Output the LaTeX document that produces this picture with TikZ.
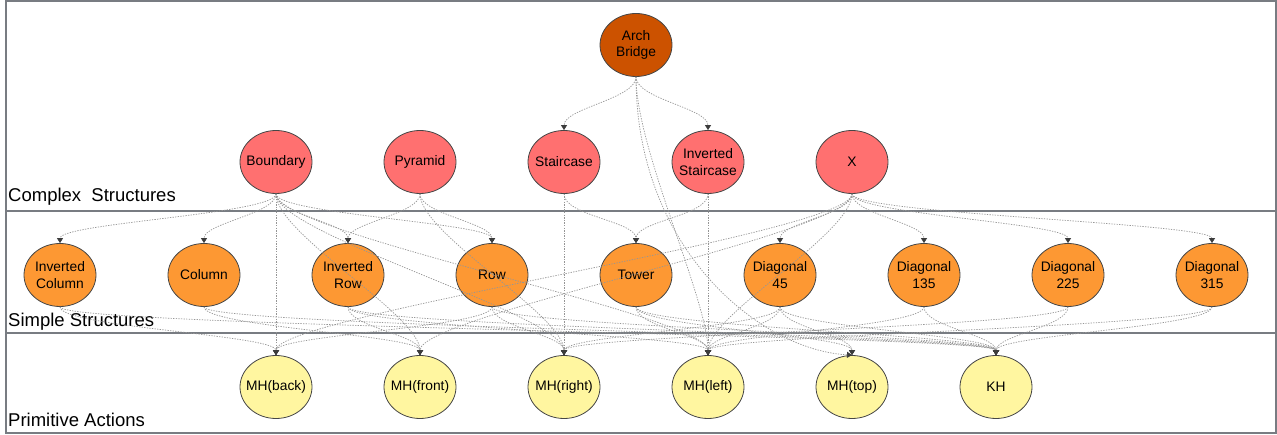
\documentclass[tikz,border=0pt]{standalone}
\usepackage{fontspec}
\setmainfont{Liberation Sans}
\usetikzlibrary{shapes.geometric,arrows.meta}
\definecolor{abc}{RGB}{204,82,0}
\definecolor{cxc}{RGB}{255,112,112}
\definecolor{smc}{RGB}{253,152,51}
\definecolor{prc}{RGB}{255,246,160}
\definecolor{bdc}{RGB}{70,70,70}
\definecolor{lnc}{RGB}{150,150,150}
\definecolor{tipc}{RGB}{60,60,60}
\definecolor{frc}{RGB}{120,124,130}
\tikzset{
 bubble/.style={ellipse, draw=bdc, line width=0.8pt, minimum width=72pt, minimum height=63pt, inner sep=-6pt, align=center, font=\fontsize{13.8}{16.5}\selectfont, text=black},
 abnode/.style={bubble, fill=abc},
 cxnode/.style={bubble, fill=cxc},
 smnode/.style={bubble, fill=smc},
 prnode/.style={bubble, fill=prc},
 conn/.style={draw=lnc, line width=0.7pt, dash pattern=on 1.3pt off 1.3pt, -{Triangle[length=5pt,width=6pt,color=tipc]}},
 lanelabel/.style={anchor=base west, inner sep=0pt, font=\fontsize{18.5}{20}\selectfont},
 frameline/.style={draw=frc, line width=1.3pt},
 laneline/.style={draw=frc, line width=2pt},
}
\newcommand\mylink[3][24]{\draw[conn] (#2.south) .. controls +(0,#1) and +(0,-#1) .. (#3.north);}
\begin{document}
\begin{tikzpicture}[x=1pt,y=-1pt]
\useasboundingbox (0,0) rectangle (1277,435);
\fill[white] (0,0) rectangle (1277,435);
% lanes
\draw[frameline] (6,1) rectangle (1276,433);
\draw[laneline] (6,211) -- (1276,211);
\draw[laneline] (6,333) -- (1276,333);
\node[lanelabel] (lcx) at (8,202) {Complex\ \ Structures};
\node[lanelabel] (lsm) at (8,327) {Simple Structures};
\node[lanelabel] (lpr) at (8,426) {Primitive Actions};
% nodes
\node[abnode] (ab) at (636,45) {Arch\\Bridge};
\node[cxnode] (bnd) at (276,162) {Boundary};
\node[cxnode] (pyr) at (420,162) {Pyramid};
\node[cxnode] (stc) at (564,162) {Staircase};
\node[cxnode] (ist) at (708,162) {Inverted\\Staircase};
\node[cxnode] (xx) at (852,162) {X};
\node[smnode] (icol) at (60,275) {Inverted\\Column};
\node[smnode] (col) at (204,275) {Column};
\node[smnode] (irow) at (348,275) {Inverted\\Row};
\node[smnode] (row) at (492,275) {Row};
\node[smnode] (tow) at (636,275) {Tower};
\node[smnode] (d45) at (780,275) {Diagonal\\45};
\node[smnode] (d135) at (924,275) {Diagonal\\135};
\node[smnode] (d225) at (1068,275) {Diagonal\\225};
\node[smnode] (d315) at (1212,275) {Diagonal\\315};
\node[prnode] (mhb) at (276,387) {MH(back)};
\node[prnode] (mhf) at (420,387) {MH(front)};
\node[prnode] (mhr) at (564,387) {MH(right)};
\node[prnode] (mhl) at (708,387) {MH(left)};
\node[prnode] (mht) at (852,387) {MH(top)};
\node[prnode] (kh) at (996,387) {KH};
% arch bridge
\mylink[22]{ab}{stc}
\mylink[22]{ab}{ist}
\draw[conn] (ab.south) .. controls +(0,72) and +(0,-55) .. (mhl.north);
\draw[conn] (ab.south) .. controls +(0,172) and +(-92,-5) .. (mht.north);
% boundary
\mylink[20]{bnd}{icol}
\mylink[20]{bnd}{col}
\mylink[20]{bnd}{irow}
\mylink[20]{bnd}{row}
\draw[conn] (bnd.south) -- (mhb.north);
\mylink[40]{bnd}{mhf}
\mylink[40]{bnd}{mhr}
\mylink[40]{bnd}{mhl}
% pyramid
\mylink[20]{pyr}{row}
\mylink[20]{pyr}{irow}
\mylink[40]{pyr}{mhr}
% staircases
\mylink[22]{stc}{tow}
\draw[conn] (stc.south) -- (mhr.north);
\mylink[22]{ist}{tow}
\draw[conn] (ist.south) -- (mhl.north);
% X
\mylink[20]{xx}{d45}
\mylink[20]{xx}{d135}
\mylink[20]{xx}{d225}
\mylink[20]{xx}{d315}
\mylink[40]{xx}{mhf}
\mylink[40]{xx}{mhb}
\mylink[40]{xx}{mhl}
% simple -> primitive
\mylink[20]{icol}{mhb}
\mylink[20]{icol}{kh}
\mylink[20]{col}{mhf}
\mylink[20]{col}{kh}
\mylink[20]{irow}{mhf}
\mylink[20]{irow}{mhl}
\mylink[20]{irow}{kh}
\mylink[20]{row}{mhb}
\mylink[20]{row}{mhr}
\mylink[20]{row}{kh}
\mylink[20]{tow}{mhl}
\mylink[20]{tow}{mht}
\mylink[20]{tow}{kh}
\mylink[20]{d45}{mhl}
\mylink[20]{d45}{mht}
\mylink[20]{d45}{mhr}
\mylink[20]{d45}{kh}
\mylink[20]{d135}{mhl}
\mylink[20]{d135}{kh}
\mylink[20]{d225}{mhr}
\mylink[20]{d225}{kh}
\mylink[20]{d315}{mhl}
\mylink[20]{d315}{kh}
\end{tikzpicture}
\end{document}
